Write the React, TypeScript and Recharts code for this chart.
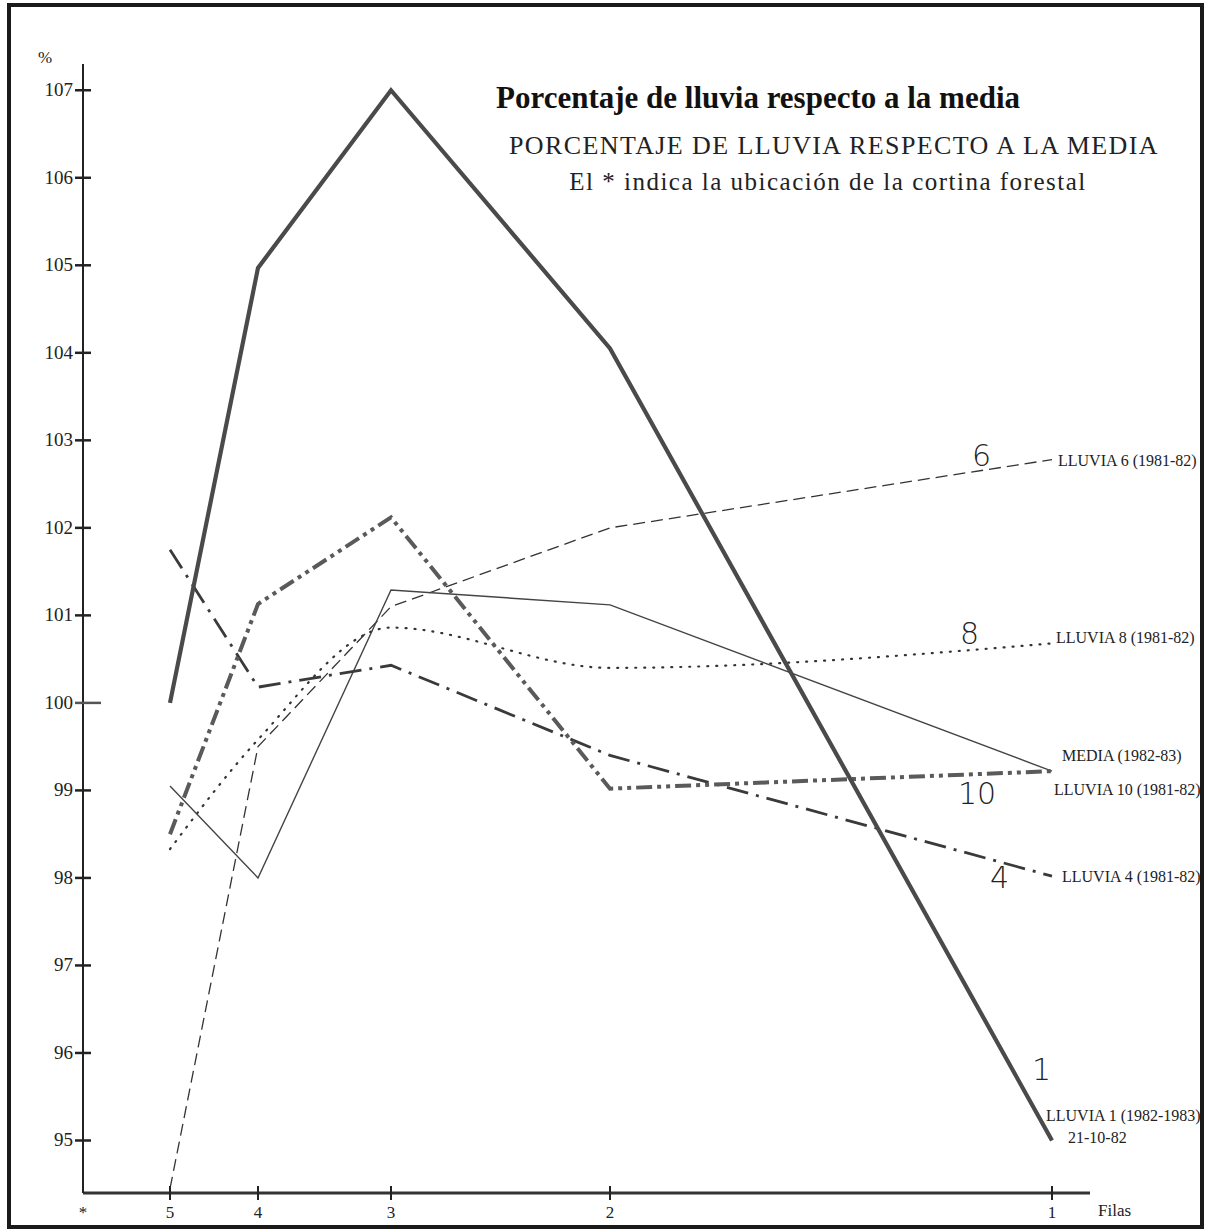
import { LineChart, Line, XAxis, YAxis } from 'recharts';

// filas (rows) measured from the forest curtain (*)
const filaLabels = ['*', '5', '4', '3', '2', '1'];
const filaPos = [0, 8.7, 17.5, 30.8, 52.7, 96.9];

// % of rain relative to the mean, for rows 5, 4, 3, 2, 1
const lluvia1 = [100.0, 104.97, 107.0, 104.05, 95.0];
const media = [99.05, 98.0, 101.29, 101.12, 99.22];
const lluvia10 = [98.5, 101.13, 102.12, 99.02, 99.22];
const lluvia4 = [101.75, 100.18, 100.43, 99.4, 98.02];
const lluvia6 = [94.45, 99.5, 101.1, 102.0, 102.78];
const lluvia8 = [98.33, 99.58, 100.86, 100.4, 100.68];

const yTicks = [95, 96, 97, 98, 99, 100, 101, 102, 103, 104, 105, 106, 107];

const data = filaPos.slice(1).map((pos, i) => ({
  pos,
  lluvia1: lluvia1[i],
  media: media[i],
  lluvia10: lluvia10[i],
  lluvia4: lluvia4[i],
  lluvia6: lluvia6[i],
  lluvia8: lluvia8[i],
}));

const serif = '"Liberation Serif", "DejaVu Serif", serif';
const ink = '#222';

const YTick = (props: any) => {
  const { x, y, payload } = props;
  const long = payload.value === 100;
  return (
    <g>
      <line x1={x - 8} x2={x + (long ? 18 : 8)} y1={y} y2={y} stroke={long ? '#555' : ink} strokeWidth={2.5} />
      <text x={x - 10} y={y} dy={6} textAnchor="end" fontSize={19} fill={ink} fontFamily={serif}>
        {payload.value}
      </text>
    </g>
  );
};

const XTick = (props: any) => {
  const { x, y, payload } = props;
  const label = filaLabels[filaPos.indexOf(payload.value)];
  return (
    <g>
      {label !== '*' && <line x1={x} x2={x} y1={y - 7} y2={y + 7} stroke={ink} strokeWidth={2} />}
      <text x={x} y={y + 25} textAnchor="middle" fontSize={17} fill={ink} fontFamily={serif}>
        {label}
      </text>
    </g>
  );
};

const rightLabels = [
  { text: 'LLUVIA 6 (1981-82)', left: 1058, top: 452 },
  { text: 'LLUVIA 8 (1981-82)', left: 1056, top: 629 },
  { text: 'MEDIA (1982-83)', left: 1062, top: 747 },
  { text: 'LLUVIA 10 (1981-82)', left: 1054, top: 781 },
  { text: 'LLUVIA 4 (1981-82)', left: 1062, top: 868 },
  { text: 'LLUVIA 1 (1982-1983)', left: 1046, top: 1107 },
  { text: '21-10-82', left: 1068, top: 1129 },
];

const handNums = [
  { text: '6', left: 972, top: 438 },
  { text: '8', left: 960, top: 616 },
  { text: '10', left: 958, top: 776 },
  { text: '4', left: 990, top: 860 },
  { text: '1', left: 1032, top: 1052 },
];

export default function App() {
  return (
    <div style={{ position: 'absolute', left: 0, top: 0, width: 1207, height: 1231, background: '#fff', fontFamily: serif }}>
      <div
        style={{
          position: 'absolute', left: 7, top: 3, width: 1197, height: 1226,
          border: '4px solid #1a1a1a', boxSizing: 'border-box',
        }}
      />
      <LineChart
        width={1207}
        height={1231}
        data={data}
        margin={{ top: 64, right: 117, bottom: 8, left: 23 }}
        style={{ position: 'absolute', left: 0, top: 0 }}
      >
        <XAxis
          dataKey="pos"
          type="number"
          domain={[0, 100.7]}
          allowDataOverflow
          ticks={filaPos}
          interval={0}
          height={30}
          tickSize={0}
          tickMargin={0}
          tick={<XTick />}
          axisLine={{ stroke: '#333', strokeWidth: 3 }}
        />
        <YAxis
          type="number"
          domain={[94.4, 107.3]}
          allowDataOverflow
          ticks={yTicks}
          interval={0}
          width={60}
          tickSize={0}
          tickMargin={0}
          tick={<YTick />}
          axisLine={{ stroke: ink, strokeWidth: 2 }}
        />
        <Line dataKey="lluvia6" type="linear" stroke="#333" strokeWidth={1.3} strokeDasharray="12 6" dot={false} isAnimationActive={false} />
        <Line dataKey="lluvia8" type="monotone" stroke="#333" strokeWidth={2.2} strokeDasharray="1 8" strokeLinecap="round" dot={false} isAnimationActive={false} />
        <Line dataKey="media" type="linear" stroke="#444" strokeWidth={1.4} dot={false} isAnimationActive={false} />
        <Line dataKey="lluvia4" type="linear" stroke="#3a3a3a" strokeWidth={2.8} strokeDasharray="22 8 3 8" dot={false} isAnimationActive={false} />
        <Line dataKey="lluvia10" type="linear" stroke="#5a5a5a" strokeWidth={4} strokeDasharray="16 5 4 5 4 5" dot={false} isAnimationActive={false} />
        <Line dataKey="lluvia1" type="linear" stroke="#4a4a4a" strokeWidth={4.2} dot={false} isAnimationActive={false} />
      </LineChart>

      <div style={{ position: 'absolute', left: 38, top: 48, fontSize: 17, color: ink }}>%</div>
      <div style={{ position: 'absolute', left: 1098, top: 1201, fontSize: 17, color: ink }}>Filas</div>

      <div style={{ position: 'absolute', left: 496, top: 80, fontSize: 31, fontWeight: 'bold', color: '#111', whiteSpace: 'nowrap' }}>
        Porcentaje de lluvia respecto a la media
      </div>
      <div style={{ position: 'absolute', left: 434, width: 800, top: 131, fontSize: 26, letterSpacing: 1.4, color: ink, textAlign: 'center', whiteSpace: 'nowrap' }}>
        PORCENTAJE DE LLUVIA RESPECTO A LA MEDIA
      </div>
      <div style={{ position: 'absolute', left: 428, width: 800, top: 168, fontSize: 25, letterSpacing: 1.5, color: ink, textAlign: 'center', whiteSpace: 'nowrap' }}>
        El * indica la ubicación de la cortina forestal
      </div>

      {rightLabels.map((l) => (
        <div key={l.text} style={{ position: 'absolute', left: l.left, top: l.top, fontSize: 16, color: ink, whiteSpace: 'nowrap' }}>
          {l.text}
        </div>
      ))}
      {handNums.map((n) => (
        <div key={n.text} style={{ position: 'absolute', left: n.left, top: n.top, fontSize: 30, color: ink, fontFamily: '"DejaVu Sans", sans-serif', fontWeight: 300 }}>
          {n.text}
        </div>
      ))}
    </div>
  );
}
